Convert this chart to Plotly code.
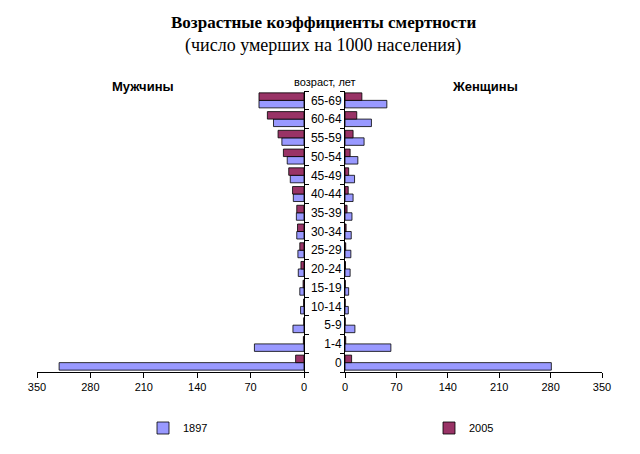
import plotly.graph_objects as go

AGES = ["0", "1-4", "5-9", "10-14", "15-19", "20-24", "25-29", "30-34",
        "35-39", "40-44", "45-49", "50-54", "55-59", "60-64", "65-69"]

MEN_1897 = [321, 65, 14.5, 4.5, 5.5, 7.5, 8, 9.5, 10, 14, 18, 22, 29, 40, 59]
MEN_2005 = [11, 0.8, 0.3, 0.5, 1.2, 4, 5.5, 8.5, 9.5, 15, 20, 27, 34, 48, 59]
WOMEN_1897 = [281, 62.5, 13.5, 4.5, 5, 7, 8, 8.5, 9.5, 11, 13, 17.5, 26, 36, 57]
WOMEN_2005 = [9, 1, 0.3, 0.3, 0.5, 0.7, 1, 1.5, 2.8, 4.4, 5, 7, 11, 16, 23]

X_TICKS = [0, 70, 140, 210, 280, 350]

BLUE = "#9999FF"
RED = "#993366"
SANS = "Arial, Liberation Sans, sans-serif"
SERIF = "Times New Roman, Liberation Serif, serif"
W, H = 640, 454

fig = go.Figure()

# men (left panel); each year gets its own legend box, spread apart like the original
fig.add_trace(go.Bar(y=AGES, x=MEN_1897, orientation="h", name="1897",
                     marker=dict(color=BLUE, line=dict(color="black", width=0.8)),
                     legendgroup="1897", showlegend=True, legend="legend",
                     xaxis="x", yaxis="y"))
fig.add_trace(go.Bar(y=AGES, x=MEN_2005, orientation="h", name="2005",
                     marker=dict(color=RED, line=dict(color="black", width=0.8)),
                     legendgroup="2005", showlegend=True, legend="legend2",
                     xaxis="x", yaxis="y"))
# women (right panel)
fig.add_trace(go.Bar(y=AGES, x=WOMEN_1897, orientation="h", name="1897",
                     marker=dict(color=BLUE, line=dict(color="black", width=0.8)),
                     legendgroup="1897", showlegend=False, xaxis="x2", yaxis="y2"))
fig.add_trace(go.Bar(y=AGES, x=WOMEN_2005, orientation="h", name="2005",
                     marker=dict(color=RED, line=dict(color="black", width=0.8)),
                     legendgroup="2005", showlegend=False, xaxis="x2", yaxis="y2"))

xcommon = dict(tickvals=X_TICKS, ticks="outside", ticklen=5, tickcolor="black",
               showline=True, linecolor="black", linewidth=1, showgrid=False,
               zeroline=False, automargin=False,
               tickfont=dict(family=SANS, size=11, color="black"))
ycommon = dict(type="category", categoryorder="array", categoryarray=AGES,
               ticks="outside", ticklen=4, tickcolor="black", tickson="boundaries",
               showline=True, linecolor="black", linewidth=1, showgrid=False,
               automargin=False, domain=[1 - 372 / H, 1 - 91 / H])
legend_font = dict(family=SANS, size=11, color="black")


def ann(text, px, py, font):
    # position given in pixels from the top-left corner
    return dict(text=text, x=px / W, y=1 - py / H, xref="paper", yref="paper",
                xanchor="center", yanchor="middle", showarrow=False, font=font)


fig.update_layout(
    width=W, height=H,
    margin=dict(l=0, r=0, t=0, b=0),
    paper_bgcolor="white", plot_bgcolor="white",
    barmode="group", bargap=0.2, bargroupgap=0,
    xaxis=dict(domain=[37 / W, 304 / W], range=[350, 0], anchor="y", **xcommon),
    yaxis=dict(anchor="x", side="right", showticklabels=False, **ycommon),
    xaxis2=dict(domain=[345 / W, 602 / W], range=[0, 350], anchor="y2", **xcommon),
    yaxis2=dict(anchor="x2", side="left", showticklabels=True,
                tickfont=dict(family=SANS, size=12, color="black"), **ycommon),
    legend=dict(x=143 / W, y=1 - 428 / H, xanchor="left", yanchor="middle",
                font=legend_font),
    legend2=dict(x=429 / W, y=1 - 428 / H, xanchor="left", yanchor="middle",
                 font=legend_font),
    annotations=[
        ann("<b>Возрастные коэффициенты смертности</b>", 323, 22,
            dict(family=SERIF, size=17, color="black")),
        ann("(число умерших на 1000 населения)", 323, 45,
            dict(family=SERIF, size=18, color="black")),
        ann("<b>Мужчины</b>", 142.5, 86, dict(family=SANS, size=13, color="black")),
        ann("<b>Женщины</b>", 485, 86, dict(family=SANS, size=13, color="black")),
        ann("возраст, лет", 325, 82, dict(family=SANS, size=11, color="black")),
    ],
)

# drop the browser's default page margin so the figure sits at the window corner
fig.write_html("out.html", config={"displayModeBar": False},
               post_script="document.body.style.margin='0';")
